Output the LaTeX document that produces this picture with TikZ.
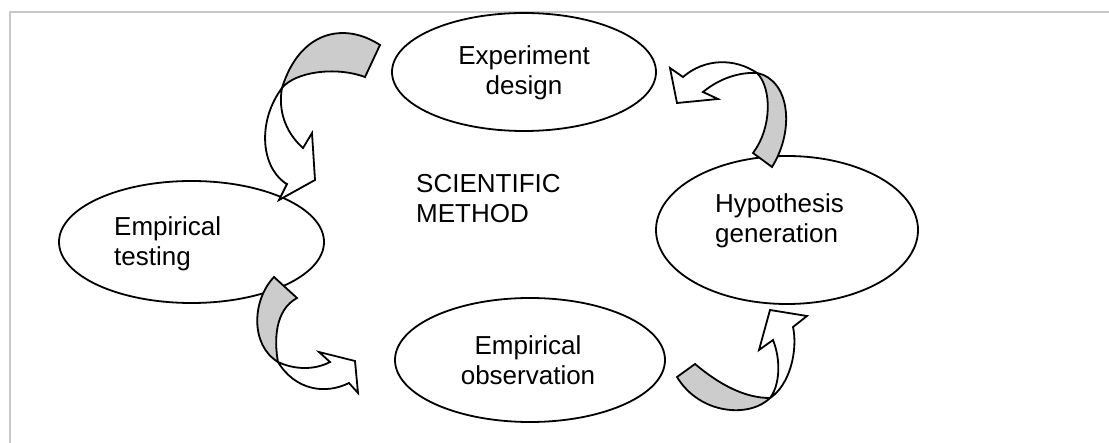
\documentclass[tikz,border=0pt]{standalone}
\usepackage{fontspec}
\setmainfont{Liberation Sans}
\usetikzlibrary{shapes.geometric}
\definecolor{framegray}{RGB}{200,200,200}
\definecolor{bandgray}{RGB}{204,204,204}
\begin{document}
\begin{tikzpicture}[x=1pt,y=-1pt,
  bubble/.style={ellipse, draw, line width=1.8pt, inner sep=0pt},
  lbl/.style={font=\fontsize{26}{30}\selectfont, inner sep=0pt, align=left},
  face/.style={draw, line width=1.8pt, line join=miter},
  front/.style={face, fill=white},
  back/.style={face, fill=bandgray}]
\useasboundingbox (0,0) rectangle (1109,443);
\draw[framegray, line width=2pt] (1109,12) -- (10,12) -- (10,443);

% ellipses
\node[bubble, minimum width=264pt, minimum height=118pt] (ed) at (524,72) {};
\node[bubble, minimum width=265pt, minimum height=122pt] (et) at (191.5,242) {};
\node[bubble, minimum width=262pt, minimum height=148pt] (hg) at (787,230) {};
\node[bubble, minimum width=270pt, minimum height=124pt] (eo) at (530,360) {};

% texts
\node[lbl, anchor=north, align=center] (edt) at (524,45) {Experiment\\design};
\node[lbl, anchor=north west] (sm) at (416,174) {SCIENTIFIC\\METHOD};
\node[lbl, anchor=north west] (ett) at (114,216) {Empirical\\testing};
\node[lbl, anchor=north west] (hgt) at (715,193) {Hypothesis\\generation};
\node[lbl, anchor=north, align=center] (eot) at (528,335) {Empirical\\observation};

% arrow 1: experiment design -> empirical testing
\draw[front] (282,88) .. controls (258,120) and (260,165) .. (285,183)
  -- (287,184) -- (279,200) -- (315,180) -- (312,133) -- (303,148)
  .. controls (285,132) and (278,110) .. (282,88) -- cycle;
\draw[back] (380,45) .. controls (345,22) and (300,30) .. (282,88)
  .. controls (295,72) and (335,66) .. (365,77) -- cycle;

% arrow 2: hypothesis -> experiment design
\draw[front] (757,73) .. controls (735,58) and (705,58) .. (683,77)
  -- (670,68) -- (677,103) -- (718,99) -- (703,92)
  .. controls (720,78) and (740,72) .. (757,73) -- cycle;
\draw[back] (757,73) .. controls (772,88) and (772,128) .. (753,153)
  -- (772,167) .. controls (795,130) and (790,80) .. (757,73) -- cycle;

% arrow 3: empirical testing -> empirical observation
\draw[front] (278,362) .. controls (295,370) and (315,370) .. (330,362)
  -- (319,352) -- (355,361) -- (358,393) -- (349,383)
  .. controls (325,395) and (295,390) .. (278,362) -- cycle;
\draw[back] (274,277) .. controls (252,300) and (250,345) .. (278,362)
  .. controls (274,340) and (275,310) .. (297,298) -- cycle;

% arrow 4: empirical observation -> hypothesis
\draw[front] (770,398) .. controls (790,385) and (798,350) .. (793,327)
  -- (807,316) -- (770,310) -- (759,350) -- (773,340)
  .. controls (781,360) and (780,385) .. (770,398) -- cycle;
\draw[back] (677,377) -- (695,364) .. controls (720,385) and (745,398) .. (770,398)
  .. controls (750,418) and (700,415) .. (677,377) -- cycle;
\end{tikzpicture}
\end{document}
